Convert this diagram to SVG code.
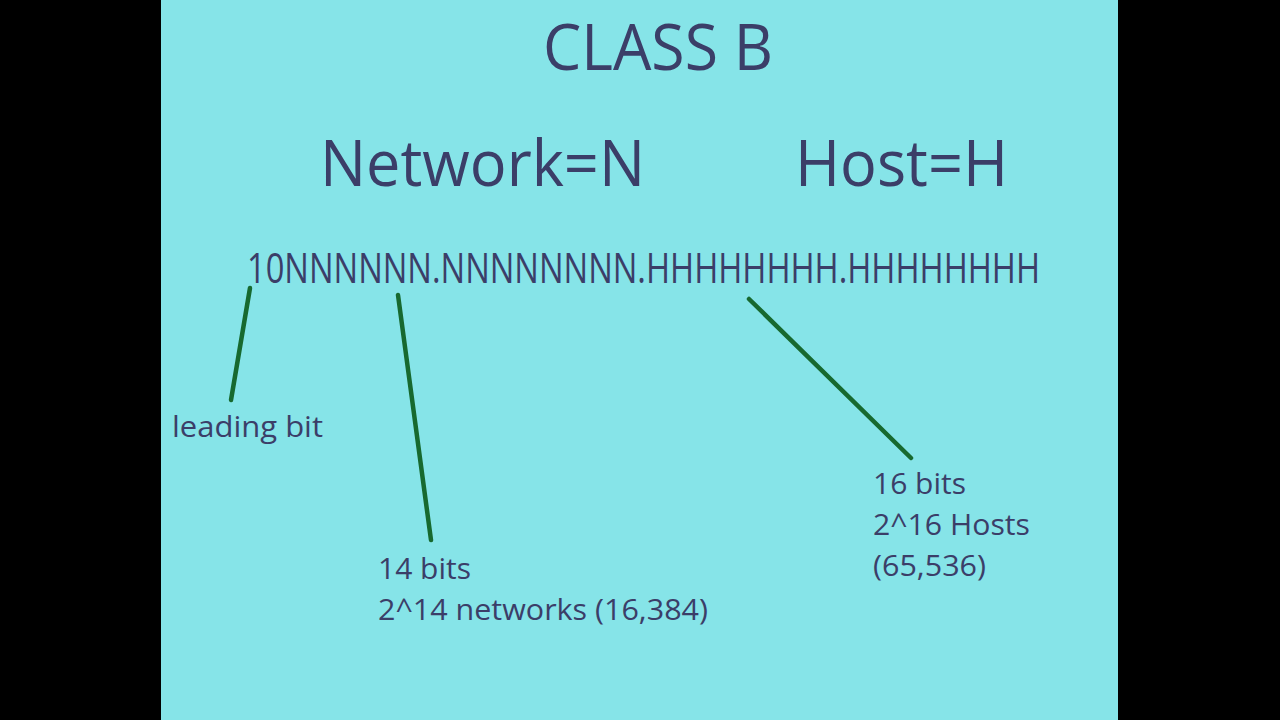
<svg xmlns="http://www.w3.org/2000/svg" width="1280" height="720" viewBox="0 0 1280 720">
<style>
text{font-family:"Open Sans","Noto Sans","DejaVu Sans",sans-serif;fill:#3b3e68}
.big{font-size:64px}
.bits{font-size:42px}
.lbl{font-size:29px}
.conn line{stroke:#17692f;stroke-width:4.5;stroke-linecap:round}
</style>
<rect x="0" y="0" width="1280" height="720" fill="#000"/>
<rect x="161" y="0" width="957" height="720" fill="#86e4e8"/>
<g id="title"><text class="big" x="543" y="70" textLength="230" lengthAdjust="spacingAndGlyphs">CLASS B</text></g>
<g id="network"><text class="big" x="320" y="186" textLength="325" lengthAdjust="spacingAndGlyphs">Network=N</text></g>
<g id="host"><text class="big" x="795" y="186" textLength="213" lengthAdjust="spacingAndGlyphs">Host=H</text></g>
<g id="address"><text class="bits" x="247" y="283" textLength="793" lengthAdjust="spacingAndGlyphs">10NNNNNN.NNNNNNNN.HHHHHHHH.HHHHHHHH</text></g>
<g id="leading"><text class="lbl" x="172" y="437" textLength="151" lengthAdjust="spacingAndGlyphs">leading bit</text></g>
<g id="netbits">
<text class="lbl" x="378" y="579" textLength="93" lengthAdjust="spacingAndGlyphs">14 bits</text>
<text class="lbl" x="378" y="620" textLength="330" lengthAdjust="spacingAndGlyphs">2^14 networks (16,384)</text>
</g>
<g id="hostbits">
<text class="lbl" x="873" y="494" textLength="93" lengthAdjust="spacingAndGlyphs">16 bits</text>
<text class="lbl" x="873" y="535" textLength="157" lengthAdjust="spacingAndGlyphs">2^16 Hosts</text>
<text class="lbl" x="873" y="576" textLength="113" lengthAdjust="spacingAndGlyphs">(65,536)</text>
</g>
<g class="conn" id="connectors">
<line x1="250" y1="288" x2="231" y2="400"/>
<line x1="398" y1="295" x2="431" y2="540"/>
<line x1="749" y1="299" x2="911" y2="458"/>
</g>
</svg>
